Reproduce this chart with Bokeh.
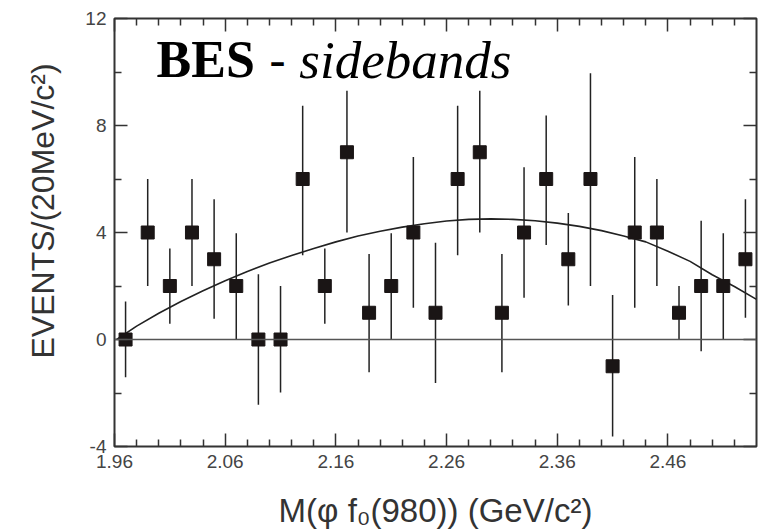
from bokeh.plotting import figure
from bokeh.models import FixedTicker, PrintfTickFormatter, LinearAxis, Span, CustomJSTickFormatter, Title
from bokeh.core.properties import value
from bokeh.embed import file_html
from bokeh.resources import INLINE

# ---- data ----
mass = [1.97, 1.99, 2.01, 2.03, 2.05, 2.07, 2.09, 2.11, 2.13, 2.15, 2.17, 2.19, 2.21, 2.23, 2.25,
        2.27, 2.29, 2.31, 2.33, 2.35, 2.37, 2.39, 2.41, 2.43, 2.45, 2.47, 2.49, 2.51, 2.53]
events = [0, 4, 2, 4, 3, 2, 0, 0, 6, 2, 7, 1, 2, 4, 1,
          6, 7, 1, 4, 6, 3, 6, -1, 4, 4, 1, 2, 2, 3]
err_top = [1.42, 6.0, 3.4, 6.0, 5.24, 3.97, 2.44, 2.0, 8.74, 3.4, 9.3, 3.2, 3.97, 6.82, 3.62,
           8.74, 9.3, 3.2, 6.44, 8.37, 4.73, 9.95, 1.66, 6.82, 6.0, 2.0, 4.44, 3.97, 5.24]
err_bottom = [-1.41, 2.0, 0.59, 2.0, 0.78, 0.0, -2.44, -1.98, 3.15, 0.59, 4.0, -1.22, 0.0, 1.19, -1.63,
              3.15, 4.0, -1.22, 1.56, 3.53, 1.27, 2.0, -3.63, 1.19, 2.0, 0.0, -0.44, 0.0, 0.81]

curve_x = [1.962, 1.98, 2.00, 2.02, 2.04, 2.06, 2.08, 2.10, 2.12, 2.14, 2.16, 2.18, 2.20, 2.22, 2.24,
           2.26, 2.28, 2.30, 2.32, 2.34, 2.36, 2.38, 2.40, 2.42, 2.44, 2.46, 2.48, 2.50, 2.52, 2.54]
curve_y = [0.0, 0.5, 0.98, 1.42, 1.82, 2.2, 2.54, 2.86, 3.14, 3.4, 3.65, 3.87, 4.05, 4.2, 4.33,
           4.43, 4.49, 4.51, 4.49, 4.44, 4.35, 4.23, 4.07, 3.87, 3.65, 3.3, 2.92, 2.42, 1.98, 1.5]

x_major = [1.96, 2.06, 2.16, 2.26, 2.36, 2.46]
x_minor = [1.98, 2.00, 2.02, 2.04, 2.08, 2.10, 2.12, 2.14, 2.18, 2.20, 2.22, 2.24,
           2.28, 2.30, 2.32, 2.34, 2.38, 2.40, 2.42, 2.44, 2.48, 2.50, 2.52]
y_major = [-4, 0, 4, 8, 12]
y_minor = [-2, 2, 6, 10]

x_title = "M(\u03c6 f\u2080(980)) (GeV/c\u00b2)"
y_title = "EVENTS/(20MeV/c\u00b2)"

p = figure(width=770, height=532, x_range=(1.96, 2.54), y_range=(-4, 12),
           output_backend="svg", toolbar_location=None,
           min_border_left=113, min_border_right=14, min_border_top=18, min_border_bottom=86,
           x_axis_location=None, y_axis_location=None)
p.grid.visible = False
p.outline_line_color = "#333333"
p.outline_line_width = 2
p.background_fill_color = "white"
p.border_fill_color = "white"

def style_axis(ax, major, minor, labels=True):
    ax.ticker = FixedTicker(ticks=major, minor_ticks=minor)
    ax.axis_line_color = None
    ax.major_tick_in = 13
    ax.major_tick_out = 0
    ax.minor_tick_in = 7
    ax.minor_tick_out = 0
    ax.major_tick_line_color = "#333333"
    ax.minor_tick_line_color = "#333333"
    ax.major_tick_line_width = 1.5
    ax.minor_tick_line_width = 1.5
    ax.major_label_text_font = "Liberation Sans"
    ax.major_label_text_font_size = "19px"
    ax.major_label_text_color = "#444444"
    ax.axis_label_text_font = "Liberation Sans"
    ax.axis_label_text_font_size = "33px"
    ax.axis_label_text_font_style = "normal"
    ax.axis_label_text_color = "#333333"
    if not labels:
        ax.formatter = CustomJSTickFormatter(code="return '';")
        ax.major_label_standoff = 0

xb = LinearAxis(axis_label=x_title)
style_axis(xb, x_major, x_minor)
xb.formatter = PrintfTickFormatter(format="%.2f")
xb.major_label_standoff = 8
xb.axis_label_standoff = 21
p.add_layout(xb, "below")

yl = LinearAxis()
style_axis(yl, y_major, y_minor)
yl.formatter = PrintfTickFormatter(format="%d")
yl.major_label_standoff = 8
p.add_layout(yl, "left")

xt = LinearAxis()
style_axis(xt, x_major, x_minor, labels=False)
p.add_layout(xt, "above")

yr = LinearAxis()
style_axis(yr, y_major, y_minor, labels=False)
p.add_layout(yr, "right")

# y-axis title as a side title so that it can sit a little above the frame centre
p.add_layout(Title(text=y_title, align="left", offset=88, standoff=44,
                   text_font="Liberation Sans", text_font_size="32px",
                   text_font_style="normal", text_color="#333333"), "left")

p.add_layout(Span(location=0, dimension="width", line_color="#555555", line_width=1.5))

p.line(curve_x, curve_y, line_color="#222222", line_width=1.6)
p.segment(x0=mass, y0=err_bottom, x1=mass, y1=err_top, line_color="#222222", line_width=1.5)
p.scatter(mass, events, marker="square", size=13, fill_color="#1a1515", line_color="#1a1515")

p.text(x=[1.998], y=[10.45], text=["BES"], text_font=value("Liberation Serif"),
       text_font_style="bold", text_font_size="52px", text_baseline="alphabetic", text_color="black")
p.text(x=[2.1], y=[10.45], text=["-"], text_font=value("Liberation Serif"),
       text_font_style="normal", text_font_size="48px", text_baseline="alphabetic", text_color="black")
p.text(x=[2.127], y=[10.45], text=["sidebands"], text_font=value("Liberation Serif"),
       text_font_style="italic", text_font_size="53px", text_baseline="alphabetic", text_color="black")

open("out.html", "w").write(file_html(p, INLINE))
